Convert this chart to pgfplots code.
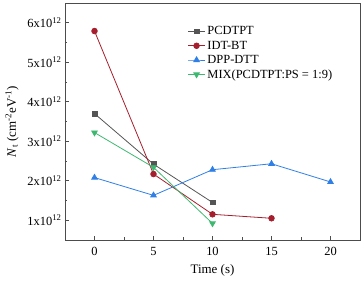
\documentclass[border=0pt]{standalone}
\usepackage{pgfplots}
\pgfplotsset{compat=1.18}
\usepackage{fontspec}
\setmainfont{Liberation Serif}
\definecolor{cgray}{HTML}{555555}
\definecolor{cred}{HTML}{A51E2D}
\definecolor{cblue}{HTML}{2F7FE6}
\definecolor{cgreen}{HTML}{3DB870}
\begin{document}
\begin{tikzpicture}
\begin{axis}[
  scale only axis, width=295bp, height=237bp,
  xmin=-2.5, xmax=22.5, ymin=0.5, ymax=6.5,
  xtick={0,5,10,15,20}, minor xtick={2.5,7.5,12.5,17.5},
  ytick={1,2,3,4,5,6}, minor ytick={1.5,2.5,3.5,4.5,5.5},
  yticklabels={1x10\textsuperscript{12},2x10\textsuperscript{12},3x10\textsuperscript{12},4x10\textsuperscript{12},5x10\textsuperscript{12},6x10\textsuperscript{12}},
  tick align=inside, tick pos=left,
  major tick length=4bp, minor tick length=2.5bp,
  axis line style={draw=black!70, line width=0.8pt},
  every tick/.style={black!70, line width=0.6pt},
  /pgf/number format/assume math mode=true,
  tick label style={font=\fontsize{12.5}{14}\selectfont},
  yticklabel style={xshift=0bp},
  xticklabel style={yshift=-4bp},
  xlabel={Time (s)}, ylabel={\textit{N}\textsubscript{t} (cm\textsuperscript{-2}eV\textsuperscript{-1})},
  label style={font=\fontsize{13}{14}\selectfont},
  xlabel style={yshift=-2bp},
  ylabel style={yshift=2bp},
  legend style={draw=none, fill=none, at={(0.405,0.918)}, anchor=north west, font=\fontsize{12.5}{14}\selectfont, row sep=0.6bp},
  legend cell align=left,
  every axis plot/.append style={line width=0.8pt, mark size=2.8bp},
]
\addplot[cgray, mark=square*, mark size=2.4bp] coordinates {(0,3.70) (5,2.42) (10,1.45)};
\addlegendentry{PCDTPT}
\addplot[cred, mark=*] coordinates {(0,5.79) (5,2.17) (10,1.15) (15,1.05)};
\addlegendentry{IDT-BT}
\addplot[cblue, mark=triangle*, mark size=3.2bp] coordinates {(0,2.08) (5,1.63) (10,2.28) (15,2.43) (20,1.97)};
\addlegendentry{DPP-DTT}
\addplot[cgreen, mark=triangle*, mark size=3.2bp, mark options={rotate=180}] coordinates {(0,3.22) (5,2.34) (10,0.92)};
\addlegendentry{MIX(PCDTPT:PS = 1:9)}
\coordinate (sw) at (rel axis cs:0,0);
\end{axis}
\pgfresetboundingbox
\path (sw) ++(-65bp,-44bp) rectangle ++(363bp,284bp);
\end{tikzpicture}
\end{document}
